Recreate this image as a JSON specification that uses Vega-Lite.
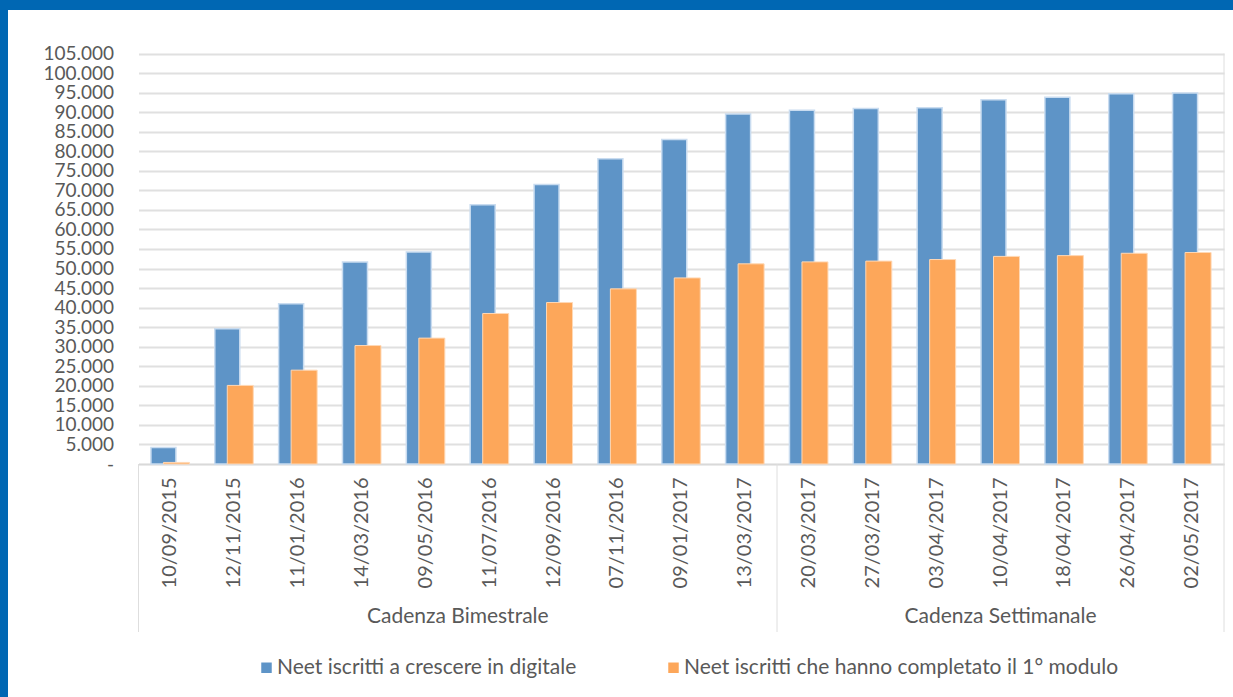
{
  "$schema": "https://vega.github.io/schema/vega-lite/v6.json",
  "autosize": "none",
  "width": 1225,
  "height": 687,
  "padding": {"left": 8, "top": 10, "right": 0, "bottom": 0},
  "background": "#0067B3",
  "config": {
    "view": {"fill": "white", "stroke": null},
    "font": "Lato",
    "axis": {"labelFont": "Lato", "labelColor": "#595959", "title": null}
  },
  "datasets": {
    "bars": [
      {"date": "10/09/2015", "group": "Cadenza Bimestrale", "serie": "Neet iscritti a crescere in digitale", "value": 4200},
      {"date": "12/11/2015", "group": "Cadenza Bimestrale", "serie": "Neet iscritti a crescere in digitale", "value": 34600},
      {"date": "11/01/2016", "group": "Cadenza Bimestrale", "serie": "Neet iscritti a crescere in digitale", "value": 41000},
      {"date": "14/03/2016", "group": "Cadenza Bimestrale", "serie": "Neet iscritti a crescere in digitale", "value": 51700},
      {"date": "09/05/2016", "group": "Cadenza Bimestrale", "serie": "Neet iscritti a crescere in digitale", "value": 54200},
      {"date": "11/07/2016", "group": "Cadenza Bimestrale", "serie": "Neet iscritti a crescere in digitale", "value": 66300},
      {"date": "12/09/2016", "group": "Cadenza Bimestrale", "serie": "Neet iscritti a crescere in digitale", "value": 71500},
      {"date": "07/11/2016", "group": "Cadenza Bimestrale", "serie": "Neet iscritti a crescere in digitale", "value": 78100},
      {"date": "09/01/2017", "group": "Cadenza Bimestrale", "serie": "Neet iscritti a crescere in digitale", "value": 83000},
      {"date": "13/03/2017", "group": "Cadenza Bimestrale", "serie": "Neet iscritti a crescere in digitale", "value": 89500},
      {"date": "20/03/2017", "group": "Cadenza Settimanale", "serie": "Neet iscritti a crescere in digitale", "value": 90500},
      {"date": "27/03/2017", "group": "Cadenza Settimanale", "serie": "Neet iscritti a crescere in digitale", "value": 90900},
      {"date": "03/04/2017", "group": "Cadenza Settimanale", "serie": "Neet iscritti a crescere in digitale", "value": 91100},
      {"date": "10/04/2017", "group": "Cadenza Settimanale", "serie": "Neet iscritti a crescere in digitale", "value": 93200},
      {"date": "18/04/2017", "group": "Cadenza Settimanale", "serie": "Neet iscritti a crescere in digitale", "value": 93800},
      {"date": "26/04/2017", "group": "Cadenza Settimanale", "serie": "Neet iscritti a crescere in digitale", "value": 94700},
      {"date": "02/05/2017", "group": "Cadenza Settimanale", "serie": "Neet iscritti a crescere in digitale", "value": 94900},
      {"date": "10/09/2015", "group": "Cadenza Bimestrale", "serie": "Neet iscritti che hanno completato il 1° modulo", "value": 400},
      {"date": "12/11/2015", "group": "Cadenza Bimestrale", "serie": "Neet iscritti che hanno completato il 1° modulo", "value": 20100},
      {"date": "11/01/2016", "group": "Cadenza Bimestrale", "serie": "Neet iscritti che hanno completato il 1° modulo", "value": 24000},
      {"date": "14/03/2016", "group": "Cadenza Bimestrale", "serie": "Neet iscritti che hanno completato il 1° modulo", "value": 30300},
      {"date": "09/05/2016", "group": "Cadenza Bimestrale", "serie": "Neet iscritti che hanno completato il 1° modulo", "value": 32200},
      {"date": "11/07/2016", "group": "Cadenza Bimestrale", "serie": "Neet iscritti che hanno completato il 1° modulo", "value": 38500},
      {"date": "12/09/2016", "group": "Cadenza Bimestrale", "serie": "Neet iscritti che hanno completato il 1° modulo", "value": 41300},
      {"date": "07/11/2016", "group": "Cadenza Bimestrale", "serie": "Neet iscritti che hanno completato il 1° modulo", "value": 44800},
      {"date": "09/01/2017", "group": "Cadenza Bimestrale", "serie": "Neet iscritti che hanno completato il 1° modulo", "value": 47600},
      {"date": "13/03/2017", "group": "Cadenza Bimestrale", "serie": "Neet iscritti che hanno completato il 1° modulo", "value": 51200},
      {"date": "20/03/2017", "group": "Cadenza Settimanale", "serie": "Neet iscritti che hanno completato il 1° modulo", "value": 51700},
      {"date": "27/03/2017", "group": "Cadenza Settimanale", "serie": "Neet iscritti che hanno completato il 1° modulo", "value": 51900},
      {"date": "03/04/2017", "group": "Cadenza Settimanale", "serie": "Neet iscritti che hanno completato il 1° modulo", "value": 52300},
      {"date": "10/04/2017", "group": "Cadenza Settimanale", "serie": "Neet iscritti che hanno completato il 1° modulo", "value": 53100},
      {"date": "18/04/2017", "group": "Cadenza Settimanale", "serie": "Neet iscritti che hanno completato il 1° modulo", "value": 53300},
      {"date": "26/04/2017", "group": "Cadenza Settimanale", "serie": "Neet iscritti che hanno completato il 1° modulo", "value": 53900},
      {"date": "02/05/2017", "group": "Cadenza Settimanale", "serie": "Neet iscritti che hanno completato il 1° modulo", "value": 54100}
    ],
    "one": [{}]
  },
  "layer": [
    {
      "data": {"name": "bars"},
      "transform": [{"filter": "datum.serie === 'Neet iscritti a crescere in digitale'"}],
      "mark": {"type": "bar", "width": 25, "xOffset": -7, "stroke": "#C9DCF0", "strokeWidth": 1.5},
      "encoding": {
        "x": {
          "field": "date",
          "type": "nominal",
          "scale": {
            "domain": ["10/09/2015", "12/11/2015", "11/01/2016", "14/03/2016", "09/05/2016", "11/07/2016", "12/09/2016", "07/11/2016", "09/01/2017", "13/03/2017", "20/03/2017", "27/03/2017", "03/04/2017", "10/04/2017", "18/04/2017", "26/04/2017", "02/05/2017"],
            "range": [130.5, 1216],
            "paddingInner": 0,
            "paddingOuter": 0
          },
          "axis": {"orient": "bottom", "offset": -233, "labelAngle": 270, "labelAlign": "right", "labelBaseline": "middle", "labelPadding": 13, "labelFontSize": 20, "ticks": false, "grid": false, "domainColor": "#D9D9D9", "domainWidth": 1.5, "labelOverlap": false}
        },
        "y": {
          "field": "value",
          "type": "quantitative",
          "scale": {"domain": [0, 105000], "range": [454, 43.5], "nice": false},
          "axis": {"orient": "left", "offset": -130.5, "values": [0, 5000, 10000, 15000, 20000, 25000, 30000, 35000, 40000, 45000, 50000, 55000, 60000, 65000, 70000, 75000, 80000, 85000, 90000, 95000, 100000, 105000], "labelExpr": "datum.value === 0 ? '-\u2007' : replace(format(datum.value, ',.0f'), ',', '.')", "labelFontSize": 19, "ticks": false, "domain": false, "grid": true, "gridColor": "#E0E0E0", "gridWidth": 2, "labelPadding": 25, "labelOverlap": false}
        },
        "color": {
          "field": "serie",
          "type": "nominal",
          "scale": {
            "domain": ["Neet iscritti a crescere in digitale", "Neet iscritti che hanno completato il 1° modulo"],
            "range": ["#5E94C7", "#FDA75A"]
          },
          "legend": {
            "title": null,
            "orient": "none",
            "legendX": 248,
            "legendY": 647,
            "direction": "horizontal",
            "symbolType": "square",
            "symbolSize": 110,
            "symbolStrokeWidth": 0,
            "labelFontSize": 21,
            "labelFont": "Lato",
            "labelColor": "#595959",
            "labelOffset": 0,
            "columnPadding": 86,
            "labelLimit": 600
          }
        }
      }
    },
    {
      "data": {"name": "bars"},
      "transform": [{"filter": "datum.serie === 'Neet iscritti che hanno completato il 1° modulo'"}],
      "mark": {"type": "bar", "width": 26, "xOffset": 6, "stroke": "#FFD8B5", "strokeWidth": 1},
      "encoding": {
        "x": {
          "field": "date",
          "type": "nominal",
          "axis": {"orient": "bottom", "offset": -233, "labelAngle": 270, "labelAlign": "right", "labelBaseline": "middle", "labelPadding": 13, "labelFontSize": 20, "ticks": false, "grid": false, "domainColor": "#D9D9D9", "domainWidth": 1.5, "labelOverlap": false}
        },
        "y": {
          "field": "value",
          "type": "quantitative",
          "axis": {"orient": "left", "offset": -130.5, "values": [0, 5000, 10000, 15000, 20000, 25000, 30000, 35000, 40000, 45000, 50000, 55000, 60000, 65000, 70000, 75000, 80000, 85000, 90000, 95000, 100000, 105000], "labelExpr": "datum.value === 0 ? '-\u2007' : replace(format(datum.value, ',.0f'), ',', '.')", "labelFontSize": 19, "ticks": false, "domain": false, "grid": true, "gridColor": "#E0E0E0", "gridWidth": 2, "labelPadding": 25, "labelOverlap": false}
        },
        "color": {"field": "serie", "type": "nominal"}
      }
    },
    {
      "data": {"name": "one"},
      "mark": {"type": "rule", "color": "#DEDEDE", "strokeWidth": 1, "y2Offset": 168},
      "encoding": {
        "x": {"datum": "10/09/2015", "type": "nominal", "bandPosition": 0,
          "axis": {"orient": "bottom", "offset": -233, "labelAngle": 270, "labelAlign": "right", "labelBaseline": "middle", "labelPadding": 13, "labelFontSize": 20, "ticks": false, "grid": false, "domainColor": "#D9D9D9", "domainWidth": 1.5, "labelOverlap": false}},
        "y": {"datum": 0, "type": "quantitative",
          "axis": {"orient": "left", "offset": -130.5, "values": [0, 5000, 10000, 15000, 20000, 25000, 30000, 35000, 40000, 45000, 50000, 55000, 60000, 65000, 70000, 75000, 80000, 85000, 90000, 95000, 100000, 105000], "labelExpr": "datum.value === 0 ? '-\u2007' : replace(format(datum.value, ',.0f'), ',', '.')", "labelFontSize": 19, "ticks": false, "domain": false, "grid": true, "gridColor": "#E0E0E0", "gridWidth": 2, "labelPadding": 25, "labelOverlap": false}},
        "y2": {"datum": 0}
      }
    },
    {
      "data": {"name": "one"},
      "mark": {"type": "rule", "color": "#DEDEDE", "strokeWidth": 1, "y2Offset": 168},
      "encoding": {
        "x": {"datum": "20/03/2017", "type": "nominal", "bandPosition": 0,
          "axis": {"orient": "bottom", "offset": -233, "labelAngle": 270, "labelAlign": "right", "labelBaseline": "middle", "labelPadding": 13, "labelFontSize": 20, "ticks": false, "grid": false, "domainColor": "#D9D9D9", "domainWidth": 1.5, "labelOverlap": false}},
        "y": {"datum": 0, "type": "quantitative",
          "axis": {"orient": "left", "offset": -130.5, "values": [0, 5000, 10000, 15000, 20000, 25000, 30000, 35000, 40000, 45000, 50000, 55000, 60000, 65000, 70000, 75000, 80000, 85000, 90000, 95000, 100000, 105000], "labelExpr": "datum.value === 0 ? '-\u2007' : replace(format(datum.value, ',.0f'), ',', '.')", "labelFontSize": 19, "ticks": false, "domain": false, "grid": true, "gridColor": "#E0E0E0", "gridWidth": 2, "labelPadding": 25, "labelOverlap": false}},
        "y2": {"datum": 0}
      }
    },
    {
      "data": {"name": "one"},
      "mark": {"type": "rule", "color": "#DEDEDE", "strokeWidth": 1, "y2Offset": 168},
      "encoding": {
        "x": {"datum": "02/05/2017", "type": "nominal", "bandPosition": 1,
          "axis": {"orient": "bottom", "offset": -233, "labelAngle": 270, "labelAlign": "right", "labelBaseline": "middle", "labelPadding": 13, "labelFontSize": 20, "ticks": false, "grid": false, "domainColor": "#D9D9D9", "domainWidth": 1.5, "labelOverlap": false}},
        "y": {"datum": 105000, "type": "quantitative",
          "axis": {"orient": "left", "offset": -130.5, "values": [0, 5000, 10000, 15000, 20000, 25000, 30000, 35000, 40000, 45000, 50000, 55000, 60000, 65000, 70000, 75000, 80000, 85000, 90000, 95000, 100000, 105000], "labelExpr": "datum.value === 0 ? '-\u2007' : replace(format(datum.value, ',.0f'), ',', '.')", "labelFontSize": 19, "ticks": false, "domain": false, "grid": true, "gridColor": "#E0E0E0", "gridWidth": 2, "labelPadding": 25, "labelOverlap": false}},
        "y2": {"datum": 0}
      }
    },
    {
      "data": {"name": "one"},
      "mark": {"type": "text", "text": "Cadenza Bimestrale", "font": "Lato", "fontSize": 21, "color": "#595959", "dy": 153, "baseline": "middle", "align": "center"},
      "encoding": {
        "x": {"datum": "11/07/2016", "type": "nominal", "bandPosition": 0,
          "axis": {"orient": "bottom", "offset": -233, "labelAngle": 270, "labelAlign": "right", "labelBaseline": "middle", "labelPadding": 13, "labelFontSize": 20, "ticks": false, "grid": false, "domainColor": "#D9D9D9", "domainWidth": 1.5, "labelOverlap": false}},
        "y": {"datum": 0, "type": "quantitative",
          "axis": {"orient": "left", "offset": -130.5, "values": [0, 5000, 10000, 15000, 20000, 25000, 30000, 35000, 40000, 45000, 50000, 55000, 60000, 65000, 70000, 75000, 80000, 85000, 90000, 95000, 100000, 105000], "labelExpr": "datum.value === 0 ? '-\u2007' : replace(format(datum.value, ',.0f'), ',', '.')", "labelFontSize": 19, "ticks": false, "domain": false, "grid": true, "gridColor": "#E0E0E0", "gridWidth": 2, "labelPadding": 25, "labelOverlap": false}}
      }
    },
    {
      "data": {"name": "one"},
      "mark": {"type": "text", "text": "Cadenza Settimanale", "font": "Lato", "fontSize": 21, "color": "#595959", "dy": 153, "baseline": "middle", "align": "center"},
      "encoding": {
        "x": {"datum": "10/04/2017", "type": "nominal", "bandPosition": 0.5,
          "axis": {"orient": "bottom", "offset": -233, "labelAngle": 270, "labelAlign": "right", "labelBaseline": "middle", "labelPadding": 13, "labelFontSize": 20, "ticks": false, "grid": false, "domainColor": "#D9D9D9", "domainWidth": 1.5, "labelOverlap": false}},
        "y": {"datum": 0, "type": "quantitative",
          "axis": {"orient": "left", "offset": -130.5, "values": [0, 5000, 10000, 15000, 20000, 25000, 30000, 35000, 40000, 45000, 50000, 55000, 60000, 65000, 70000, 75000, 80000, 85000, 90000, 95000, 100000, 105000], "labelExpr": "datum.value === 0 ? '-\u2007' : replace(format(datum.value, ',.0f'), ',', '.')", "labelFontSize": 19, "ticks": false, "domain": false, "grid": true, "gridColor": "#E0E0E0", "gridWidth": 2, "labelPadding": 25, "labelOverlap": false}}
      }
    }
  ]
}
